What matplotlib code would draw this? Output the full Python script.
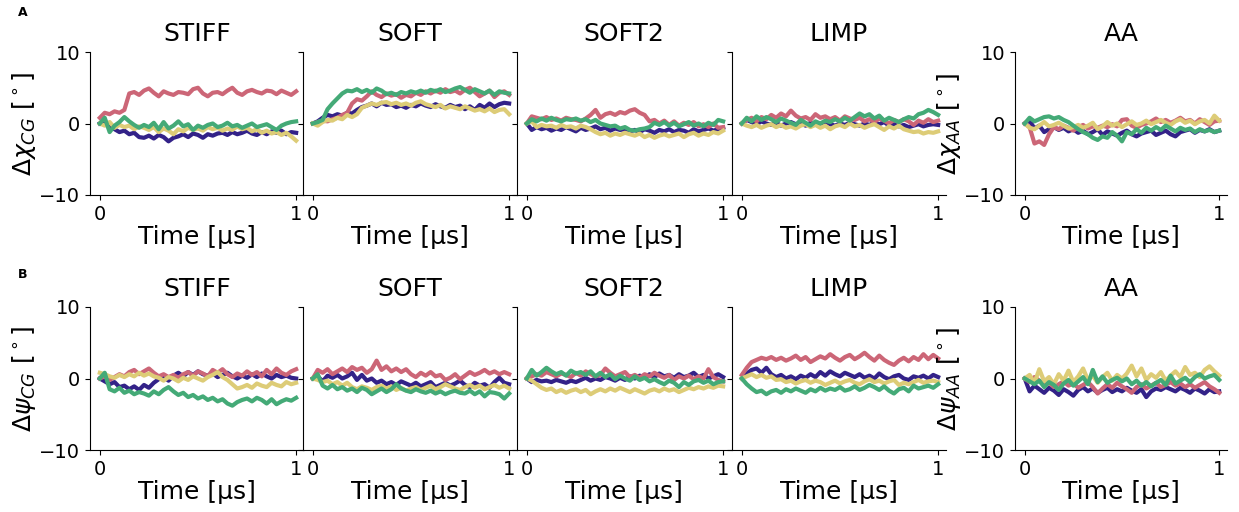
import numpy as np
import matplotlib
matplotlib.use("Agg")
import matplotlib.pyplot as plt

# time axis [us], 41 samples per trajectory
time = np.linspace(0, 1, 41)

models = ["STIFF", "SOFT", "SOFT2", "LIMP", "AA"]
colors = ["#332288", "#CC6677", "#DDCC77", "#44AA77"]  # indigo, rose, sand, green

# ---- row A: delta chi, each panel = [indigo, rose, sand, green]
chi_stiff = [
    [0, 0.3, -0.5, -0.8, -1.2, -1.0, -1.5, -1.3, -1.9, -2.0, -1.7, -2.1, -1.6, -1.9, -2.5, -2.0, -1.8, -1.5, -1.9, -1.4, -1.6, -2.0, -1.5, -1.7, -1.4, -1.3, -1.6, -1.2, -1.5, -1.3, -1.0, -1.4, -1.6, -1.2, -1.5, -1.1, -1.3, -1.0, -1.5, -1.2, -1.3],
    [0.8, 1.5, 1.3, 1.7, 1.5, 1.9, 4.2, 4.4, 4.0, 4.6, 4.9, 4.3, 3.8, 4.5, 4.2, 4.0, 4.4, 4.3, 4.1, 4.8, 5.0, 4.2, 3.8, 4.3, 4.4, 4.1, 4.6, 5.0, 4.3, 4.0, 4.5, 4.7, 4.4, 4.2, 4.6, 4.5, 4.1, 4.6, 4.3, 4.0, 4.5],
    [0, -0.3, 0.2, -0.6, -0.2, -0.5, -0.3, -0.8, -0.4, -0.6, -0.9, -0.5, -1.2, -0.7, -1.0, -1.5, -0.8, -1.1, -0.6, -0.9, -0.7, -1.0, -0.5, -0.8, -0.6, -1.0, -0.7, -0.9, -0.4, -0.8, -0.6, -1.1, -0.8, -1.3, -1.0, -1.4, -1.2, -1.6, -1.3, -1.8, -2.4],
    [0, 0.8, -1.2, -0.3, 0.2, 0.9, 0.3, -0.2, -0.6, -0.2, -0.5, 0.1, -0.8, 0.2, -0.7, -0.3, 0.3, -0.4, -0.1, -0.9, -0.3, -0.6, -0.2, 0.0, -0.5, -0.3, 0.1, -0.4, -0.2, -0.6, -0.3, 0.0, -0.5, -0.3, -0.1, -0.5, -0.9, -0.3, 0.0, 0.2, 0.3],
]
chi_soft = [
    [0, 0.3, 0.8, 1.2, 1.0, 1.3, 1.1, 1.5, 1.4, 1.9, 2.3, 2.5, 2.8, 2.4, 2.9, 2.6, 2.7, 2.3, 2.5, 2.2, 2.6, 2.4, 2.8, 2.5, 2.3, 2.7, 2.4, 2.2, 2.6, 2.3, 2.5, 2.0, 2.4, 1.9, 2.6, 2.2, 2.8, 2.3, 2.7, 2.9, 2.8],
    [0, 0.2, 0.4, 0.3, 0.6, 0.8, 1.2, 1.5, 2.8, 3.4, 3.2, 3.8, 4.5, 4.0, 3.7, 4.2, 3.9, 4.1, 3.6, 4.0, 3.8, 4.3, 4.0, 4.5, 4.2, 4.6, 4.3, 4.8, 4.4, 4.6, 4.2, 4.7, 5.0, 4.4, 3.8, 4.2, 4.6, 3.7, 4.3, 4.5, 4.0],
    [0, -0.3, 0.2, 0.5, 0.4, 0.8, 0.6, 1.2, 0.9, 1.3, 2.2, 2.5, 2.8, 2.6, 2.9, 3.0, 2.7, 2.9, 2.6, 2.8, 2.5, 2.9, 3.1, 2.7, 2.5, 2.3, 2.6, 2.1, 2.4, 2.2, 2.0, 2.4, 2.1, 1.8, 2.0, 1.7, 2.1, 1.6, 1.9, 2.0, 1.3],
    [0, 0.2, 0.5, 2.0, 2.8, 3.5, 4.2, 4.6, 4.5, 4.8, 4.4, 4.7, 4.3, 4.9, 4.6, 4.1, 4.3, 4.0, 4.4, 4.2, 4.5, 4.3, 4.6, 4.3, 4.7, 4.5, 4.8, 4.4, 4.6, 4.9, 5.1, 4.7, 4.3, 4.8, 4.5, 4.2, 4.6, 4.0, 4.5, 4.3, 4.2],
]
chi_soft2 = [
    [0, -0.9, -0.5, -0.8, -0.6, -1.0, -0.7, -0.9, -0.5, -0.8, -1.1, -0.6, -0.9, -0.7, -0.4, -0.8, -0.6, -1.0, -0.7, -0.9, -0.8, -1.1, -0.9, -1.2, -0.8, -1.0, -1.3, -0.9, -1.1, -0.8, -1.2, -0.9, -1.0, -1.3, -0.8, -1.1, -0.9, -0.7, -1.0, -0.8, -0.6],
    [0, 1.0, 0.8, 0.6, 0.9, 0.5, 0.7, 0.4, 0.8, 0.6, 0.5, 0.3, 0.7, 1.2, 1.9, 0.8, 1.3, 1.5, 1.2, 1.6, 1.4, 1.8, 2.0, 1.5, 1.2, 0.3, 0.5, 0.0, 0.4, -0.2, 0.3, -0.3, 0.1, -0.2, 0.2, -0.4, -0.1, -0.5, 0.0, -0.6, -0.5],
    [0, 0.3, -0.5, -0.2, -0.4, -0.3, -0.6, -0.2, -0.5, -0.4, -0.7, -0.3, -0.5, -0.8, -1.2, -1.5, -1.3, -1.7, -1.4, -1.6, -1.3, -1.5, -1.7, -1.4, -1.9, -1.6, -2.0, -1.7, -1.5, -1.8, -1.6, -1.4, -1.9, -1.5, -1.3, -1.7, -1.4, -1.6, -1.2, -1.4, -1.0],
    [0, 0.6, 0.3, 0.7, 0.4, 0.8, 0.5, 0.3, 0.6, 0.5, 0.7, 0.4, 0.6, 0.2, 0.5, 0.0, -0.2, -0.4, -0.3, -0.7, -0.5, -0.9, -1.0, -0.8, -0.7, -0.5, 0.1, -0.2, 0.2, -0.3, 0.1, -0.4, -0.1, 0.2, -0.3, 0.0, -0.4, 0.1, -0.2, 0.5, 0.3],
]
chi_limp = [
    [0, 0.5, 0.2, -0.1, 0.3, 0.0, -0.2, 0.1, -0.3, 0.0, 0.2, -0.1, 0.0, -0.3, 0.1, -0.2, 0.0, 0.2, -0.1, -0.3, 0.0, -0.2, 0.1, -0.1, -0.3, 0.0, -0.2, 0.1, -0.1, 0.2, -0.3, -0.1, -0.4, -0.2, -0.5, -0.3, -0.1, -0.4, -0.2, -0.1, -0.2],
    [0, 0.5, 0.8, 0.3, 0.9, 0.6, 1.2, 0.8, 1.4, 1.0, 1.8, 1.1, 0.7, 0.9, 0.5, 1.3, 0.8, 1.0, 0.6, 0.9, 0.4, 1.0, 0.7, 0.5, 0.8, 0.3, 0.6, 0.2, 0.7, 0.4, 0.0, 0.5, 0.2, 0.6, 0.3, -0.2, 0.4, 0.1, 0.6, 0.2, 0.4],
    [0, -0.3, -0.5, -0.2, -0.6, -0.3, -0.1, -0.5, -0.2, -0.6, -0.4, -0.7, -0.3, -0.1, -0.5, -0.2, -0.6, -0.3, -0.8, -0.4, -0.2, -0.5, 0.0, -0.4, -0.2, -0.6, -0.3, -0.1, -0.5, -0.9, -0.4, -0.7, -0.3, -0.8, -1.0, -1.2, -1.1, -1.4, -1.2, -1.3, -1.1],
    [0, 0.8, 0.3, 1.0, 0.5, 0.9, 0.6, 0.2, 0.7, 0.4, 0.1, -0.2, 0.5, 0.1, -0.3, 0.3, 0.0, 0.4, 0.2, 0.6, 0.3, 0.8, 0.4, 0.9, 1.4, 1.0, 1.3, 0.7, 1.1, 0.4, 0.8, 0.5, 0.2, 0.6, 0.9, 0.7, 1.3, 1.5, 1.9, 1.6, 1.2],
]
chi_aa = [
    [0, 0.4, -0.7, -0.3, -1.2, -0.8, -0.5, -0.9, -0.6, -1.1, -0.8, -1.3, -1.0, -1.5, -1.2, -0.8, -1.6, -1.1, -1.4, -1.7, -1.3, -1.0, -1.5, -1.8, -1.4, -1.2, -1.0, -1.6, -1.3, -1.0, -1.5, -1.8, -1.2, -1.0, -0.8, -1.3, -0.9, -1.1, -0.8, -1.2, -1.0],
    [0, -0.5, -2.8, -2.5, -3.0, -1.5, -0.5, -0.8, -0.3, -0.6, -1.0, -0.5, -0.2, -0.7, -0.4, -0.6, -0.3, -0.5, -0.1, -0.4, 0.5, 0.6, -0.3, -0.6, -0.2, 0.0, 0.3, 0.7, 0.2, 0.5, 0.1, 0.4, 0.8, 0.3, 0.5, 0.0, 0.6, 0.2, -0.2, 0.3, 0.4],
    [0, -0.6, -0.8, -0.3, 0.2, -0.4, -0.2, 0.1, -0.3, -0.7, -0.5, -0.2, -0.6, -0.3, 0.1, -0.8, -0.4, 0.2, -0.3, 0.0, -0.5, -0.1, 0.3, -0.2, 0.0, 0.4, -0.1, 0.2, 0.5, 0.1, -0.2, 0.3, 0.6, 0.1, 0.4, -0.1, 0.3, 0.5, 0.0, 1.1, 0.4],
    [0, 0.8, 0.3, 0.6, 0.9, 1.0, 0.7, 0.9, 0.5, 0.2, -0.3, -0.8, -1.2, -1.5, -2.0, -2.3, -1.8, -2.0, -1.2, -1.7, -2.5, -1.2, -1.5, -0.8, -1.3, -0.6, -1.0, -0.5, -0.9, -0.3, -0.7, -1.1, -0.6, -0.9, -0.7, -1.2, -0.8, -1.1, -0.9, -1.2, -1.0],
]

# ---- row B: delta psi, each panel = [indigo, rose, sand, green]
psi_stiff = [
    [0, -0.4, -0.8, -0.5, -1.2, -1.0, -1.5, -1.1, -1.6, -0.9, -1.3, -0.6, -0.1, 0.2, -0.3, 0.4, 0.8, 0.3, 0.9, 0.5, 1.0, 0.6, 0.4, 0.7, 0.2, 0.5, 0.8, 0.3, 0.0, 0.4, 0.1, 0.6, 0.2, 0.7, 0.3, 0.0, 0.5, 0.2, 0.4, 0.1, 0.0],
    [0, 0.3, -0.2, 0.2, 0.6, 0.3, 0.9, 1.2, 0.6, 1.0, 1.4, 0.8, 0.3, 0.6, 0.2, 0.5, 0.1, 0.6, 0.9, 0.4, 1.0, 0.7, 0.3, 1.2, 0.8, 1.3, 0.6, 0.2, 0.7, 0.4, 1.0, 0.5, 0.9, 0.3, 1.2, 0.6, 1.4, 0.8, 0.5, 1.0, 1.3],
    [0.8, 0.6, 0.3, 0.1, 0.5, 0.2, 0.6, 0.3, 0.8, 0.4, 0.7, 0.3, 0.1, -0.3, 0.2, 0.0, -0.4, 0.1, -0.2, 0.3, 0.0, -0.3, 0.2, 0.5, 0.9, 0.2, -0.2, -0.8, -1.4, -1.2, -0.9, -1.3, -0.7, -1.0, -1.2, -0.6, -0.9, -1.1, -0.5, -0.8, -0.6],
    [0, 0.8, -1.5, -1.8, -1.3, -2.0, -1.7, -2.2, -1.9, -2.1, -2.4, -1.8, -2.2, -1.6, -1.2, -1.8, -2.3, -2.0, -2.6, -2.3, -2.8, -2.5, -3.0, -2.7, -3.2, -2.9, -3.5, -3.8, -3.3, -3.0, -2.8, -3.2, -2.7, -3.0, -3.5, -2.9, -3.6, -3.2, -2.9, -3.1, -2.7],
]
psi_soft = [
    [0, 0.3, -0.4, 0.4, 0.1, 0.5, 0.0, 0.3, 0.8, -0.2, 0.5, -0.3, 0.0, -0.6, -0.3, -0.8, -0.5, -0.9, -0.4, -0.7, -1.0, -0.6, -1.1, -0.8, -0.5, -1.2, -0.9, -0.6, -1.0, -0.7, -0.3, -0.9, -1.2, -0.6, -1.0, -0.8, -1.3, -0.5, 0.1, -0.6, -0.8],
    [0, 1.2, 0.8, 1.3, 0.6, 1.0, 1.4, 0.9, 1.6, 1.2, 1.5, 0.8, 1.3, 2.5, 1.2, 1.7, 1.0, 1.4, 0.9, 1.3, 0.6, 0.2, 0.8, 0.4, 0.9, 0.3, 0.5, -0.2, 0.1, 0.6, -0.1, 0.4, 0.9, 0.5, 0.8, 1.2, 0.7, 1.0, 0.6, 0.9, 0.6],
    [0, -0.2, -0.5, -0.3, -0.8, -0.5, -1.0, -0.6, -1.2, -1.5, -1.1, -1.3, -1.6, -1.2, -1.0, -1.4, -1.1, -1.6, -1.3, -1.7, -1.4, -1.2, -1.6, -1.3, -1.0, -1.5, -1.2, -0.8, -1.1, -1.4, -1.6, -1.2, -0.9, -1.3, -1.0, -1.5, -1.2, -0.9, -1.3, -1.0, -1.4],
    [0, 0.6, -1.0, -1.4, -0.9, -1.5, -1.2, -1.7, -1.4, -1.9, -1.3, -1.6, -2.2, -1.8, -1.4, -1.9, -1.5, -0.8, -1.4, -1.7, -1.9, -1.5, -1.8, -2.0, -1.7, -2.1, -1.8, -2.2, -1.9, -1.7, -2.0, -2.1, -1.7, -2.2, -1.8, -2.5, -1.9, -2.0, -2.2, -2.8, -2.1],
]
psi_soft2 = [
    [0, -0.5, -0.2, -0.4, -0.3, -0.5, -0.2, -0.4, -0.6, -0.3, -0.5, -0.2, 0.1, -0.3, 0.0, -0.2, 0.2, 0.0, -0.3, 0.1, -0.2, 0.3, 0.0, 0.4, 0.1, 0.6, 0.2, 0.7, 0.3, 0.5, 0.1, 0.6, 0.2, 0.4, 0.8, 0.2, 0.5, 0.0, 0.3, 0.6, 0.2],
    [0, 0.3, 0.6, 0.4, 0.9, 0.6, 0.3, 0.7, 0.5, 0.2, 0.8, 0.4, 1.0, 0.6, 0.3, 0.5, 1.4, 0.8, 0.3, 0.6, 0.9, 0.2, 0.5, 0.1, 0.6, 0.3, 0.8, 0.4, 0.1, 0.5, -0.2, 0.3, 0.0, 0.4, -0.1, 0.3, 0.0, 1.3, 0.2, -0.2, -0.4],
    [0, -0.3, -0.8, -1.3, -1.6, -1.4, -1.9, -1.6, -2.0, -1.7, -1.5, -1.9, -1.6, -2.2, -1.8, -1.5, -1.8, -1.4, -1.7, -1.3, -1.6, -1.9, -1.5, -1.8, -2.1, -1.7, -1.5, -1.8, -1.4, -1.7, -1.5, -1.9, -1.6, -1.3, -1.5, -1.2, -1.4, -1.1, -1.3, -1.0, -1.1],
    [0, 1.2, 0.4, 0.9, 1.5, 1.0, 0.6, 0.9, 0.4, 1.1, 0.7, 0.9, 0.5, 1.0, 0.3, 0.8, 0.2, 0.6, -0.1, 0.4, 0.0, -0.3, 0.3, -0.2, 0.1, -0.4, -0.1, -0.5, -0.8, -0.3, -0.6, -1.2, -0.5, -0.9, -0.4, -0.2, -0.6, -0.3, -0.8, -0.5, -0.4],
]
psi_limp = [
    [0, 0.7, 1.2, 1.4, 0.8, 1.5, 0.6, 0.2, 0.5, 0.0, 0.3, -0.1, 0.4, 0.1, 0.6, 0.2, 0.9, 0.4, 1.0, 0.6, 0.3, 0.8, 0.5, 0.2, 0.6, 0.1, 0.4, 0.0, 0.7, 0.2, -0.1, 0.3, 0.5, 0.0, -0.2, 0.3, 0.1, 0.4, 0.0, 0.5, 0.2],
    [0.5, 1.5, 2.3, 2.6, 2.9, 2.7, 3.0, 2.6, 2.9, 2.5, 2.8, 3.2, 2.6, 3.0, 2.3, 2.7, 3.1, 2.8, 3.4, 2.9, 2.5, 3.0, 3.3, 2.7, 3.1, 3.6, 3.0, 2.5, 3.2, 2.6, 2.2, 1.9, 2.5, 2.9, 2.4, 3.0, 2.6, 3.4, 2.7, 3.3, 2.8],
    [0, 0.3, 0.6, 0.2, 0.5, 0.1, 0.3, -0.2, -0.1, -0.5, -0.3, -0.7, -0.4, -0.2, -0.6, -0.3, -0.5, -0.9, -0.6, -0.3, -0.7, -0.4, -0.2, -0.6, -0.8, -0.4, -0.1, -0.5, -0.3, -0.7, -0.4, -0.2, -0.9, -0.6, -0.8, -0.5, -0.2, -0.6, -0.4, -0.3, -0.5],
    [0, -0.8, -1.4, -1.9, -1.7, -2.2, -1.8, -1.6, -2.0, -1.5, -1.8, -1.4, -1.7, -2.0, -1.5, -1.8, -1.3, -1.7, -1.4, -1.6, -1.2, -1.7, -1.5, -1.1, -1.6, -1.3, -0.9, -1.2, -1.6, -1.1, -1.7, -2.1, -1.5, -1.3, -1.8, -1.0, -1.4, -1.2, -1.0, -1.3, -0.8],
]
psi_aa = [
    [0, -1.8, -1.0, -1.5, -2.0, -1.3, -1.7, -2.3, -1.5, -1.9, -2.4, -1.6, -1.2, -1.8, -1.4, -2.0, -1.6, -1.3, -1.9, -1.5, -1.8, -1.3, -1.7, -2.0, -1.5, -2.6, -1.8, -1.4, -1.6, -1.2, -1.5, -1.8, -1.3, -1.6, -2.0, -1.4, -1.7, -2.1, -1.5, -1.9, -1.8],
    [0, -0.5, 0.2, -0.3, -1.0, -0.6, -1.2, -0.8, -0.4, -1.0, -0.7, -1.3, -0.9, -0.5, -1.2, -2.1, -1.4, -0.8, -1.3, -0.6, -1.1, -1.5, -2.0, -1.2, -0.8, -1.4, -1.0, -0.6, -1.2, -0.9, -0.5, -1.0, -0.7, -1.2, -0.8, -1.3, -0.9, -0.5, -1.1, -1.5, -2.0],
    [0, 0.5, -0.6, 1.3, -0.4, 0.2, -0.8, 0.6, -0.3, 1.1, -0.5, 0.3, 1.4, -0.2, 0.4, -0.6, 0.2, 0.8, -0.3, 0.5, 0.0, 0.7, 1.8, 0.3, 1.4, -0.2, 0.6, 0.1, 0.9, -0.3, 0.4, 1.0, 0.2, 1.6, 0.5, 0.8, 0.2, 1.2, 1.7, 1.0, 0.4],
    [0, -0.4, -0.8, -0.3, -1.2, -0.5, -0.9, -1.6, -0.7, -0.2, -1.0, -0.4, 0.2, -0.8, 1.2, -0.5, 0.3, -0.6, -0.2, 0.1, -0.4, 0.0, -0.8, -0.3, -1.0, -0.5, -1.1, -0.6, -0.2, -0.9, 0.4, -0.7, -0.3, 0.1, -0.5, 0.2, 0.6, 0.0, 0.3, 0.5, -0.2],
]

rows = [
    ([chi_stiff, chi_soft, chi_soft2, chi_limp, chi_aa],
     r'$\Delta\chi_{CG}$ [$^\circ$]', r'$\Delta\chi_{AA}$ [$^\circ$]', 'A'),
    ([psi_stiff, psi_soft, psi_soft2, psi_limp, psi_aa],
     r'$\Delta\psi_{CG}$ [$^\circ$]', r'$\Delta\psi_{AA}$ [$^\circ$]', 'B'),
]

fig = plt.figure(figsize=(12.39, 5.12), dpi=100)

W, H = 1239.0, 512.0
lefts = [90, 303, 517, 732, 1015]
tops = [52, 307]
ax_w, ax_h = 214, 143
letter_y = [12, 275]

for r, (panels, lab_cg, lab_aa, letter) in enumerate(rows):
    for c, traj in enumerate(panels):
        w = ax_w if c < 4 else 212
        ax = fig.add_axes([lefts[c] / W, 1 - (tops[r] + ax_h) / H, w / W, ax_h / H])
        for y, col in zip(traj, colors):
            ax.plot(time, y, color=col, lw=3)
        ax.set_xlim(-0.05, 1.04)
        ax.set_ylim(-10, 10)
        ax.set_xticks([0, 1])
        ax.set_yticks([-10, 0, 10])
        ax.spines['top'].set_visible(False)
        ax.spines['right'].set_visible(False)
        ax.tick_params(labelsize=14)
        ax.set_title(models[c], fontsize=18, pad=8)
        ax.set_xlabel('Time [μs]', fontsize=18, labelpad=1)
        if c == 0:
            ax.set_ylabel(lab_cg, fontsize=18, labelpad=1)
        elif c == 4:
            ax.set_ylabel(lab_aa, fontsize=18, labelpad=1)
        else:
            ax.tick_params(labelleft=False)
    fig.text(18 / W, 1 - letter_y[r] / H, letter,
             fontsize=9, fontweight='bold', ha='left', va='center')

fig.savefig('out.png', dpi=100)
